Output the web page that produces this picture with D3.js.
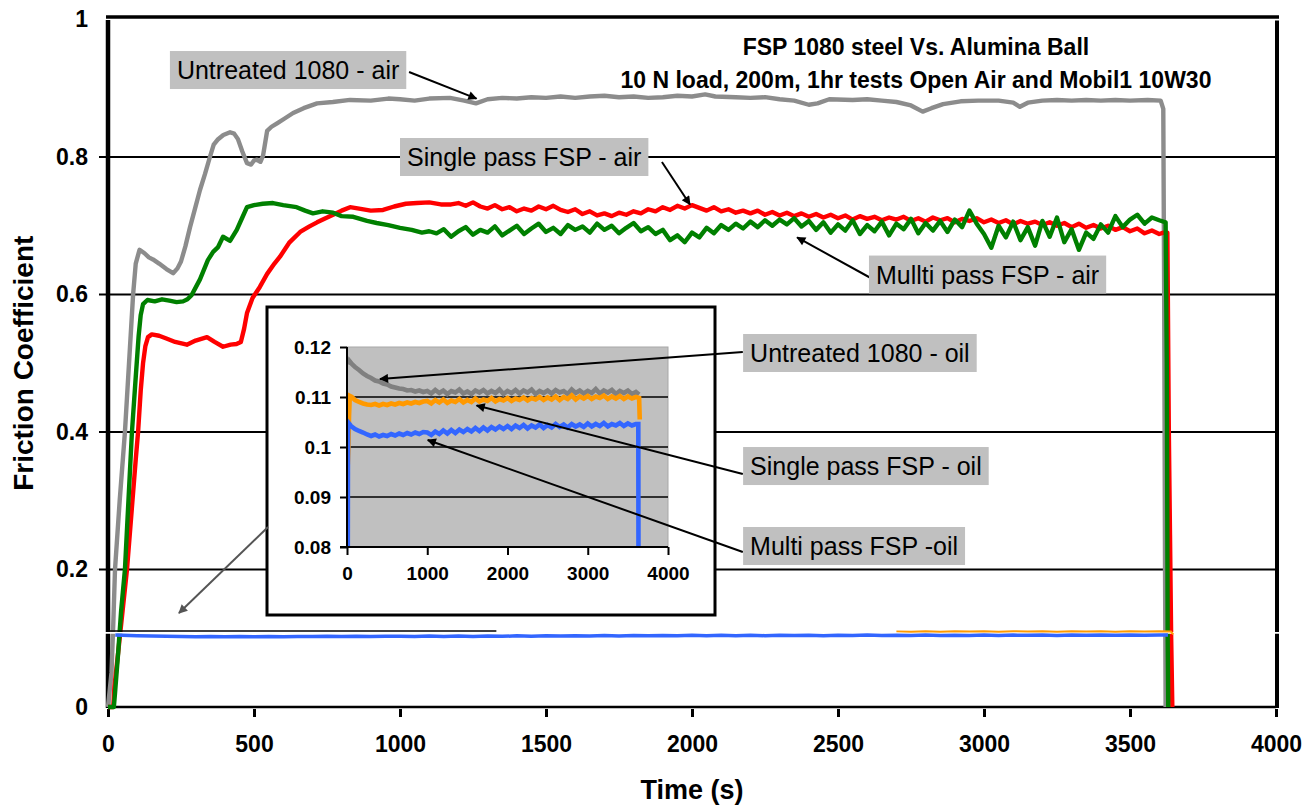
<!DOCTYPE html>
<html>
<head>
<meta charset="utf-8">
<script src="https://cdn.jsdelivr.net/npm/d3@7"></script>
<style>
  body { margin: 0; background: #fff; overflow: hidden; }
  text { font-family: 'Liberation Sans', Arial, sans-serif; }
</style>
</head>
<body>
<div id="chart"></div>
<script>
// tick values
const xTicks = [0, 500, 1000, 1500, 2000, 2500, 3000, 3500, 4000];
const yTicks = [0, 0.2, 0.4, 0.6, 0.8, 1];
const insetXTicks = [0, 1000, 2000, 3000, 4000];
const insetYTicks = [0.08, 0.09, 0.1, 0.11, 0.12];

// open air tests, [time (s), friction coefficient]
const untreatedAir = [
  [0, 0], [12, 0.05], [18, 0.12], [24, 0.2], [40, 0.3], [58, 0.4], [72, 0.5], [86, 0.6], [95, 0.645], [108, 0.665],
  [125, 0.66], [140, 0.654], [154, 0.651], [175, 0.645], [200, 0.637], [223, 0.631], [238, 0.638], [250, 0.648], [265, 0.67], [281, 0.698],
  [298, 0.725], [315, 0.752], [332, 0.775], [349, 0.80], [362, 0.818], [375, 0.825], [395, 0.832], [418, 0.836], [432, 0.834], [445, 0.826],
  [460, 0.808], [476, 0.791], [490, 0.789], [500, 0.795], [510, 0.796], [522, 0.793], [531, 0.802], [545, 0.838], [560, 0.844], [579, 0.849],
  [605, 0.856], [634, 0.864], [670, 0.871], [716, 0.878], [770, 0.88], [829, 0.883], [900, 0.882], [960, 0.885], [1000, 0.884], [1050, 0.882],
  [1100, 0.885], [1171, 0.886], [1220, 0.882], [1260, 0.878], [1300, 0.884], [1350, 0.886], [1400, 0.885], [1450, 0.887], [1500, 0.886], [1550, 0.888],
  [1600, 0.886], [1650, 0.888], [1700, 0.889], [1750, 0.887], [1800, 0.888], [1850, 0.886], [1900, 0.887], [1950, 0.889], [2000, 0.888], [2045, 0.891],
  [2080, 0.888], [2150, 0.887], [2200, 0.886], [2250, 0.887], [2300, 0.884], [2350, 0.882], [2400, 0.876], [2430, 0.878], [2470, 0.884], [2550, 0.883],
  [2600, 0.884], [2650, 0.882], [2700, 0.88], [2750, 0.875], [2790, 0.866], [2820, 0.871], [2860, 0.877], [2920, 0.881], [2980, 0.882], [3050, 0.882],
  [3100, 0.879], [3123, 0.873], [3150, 0.879], [3200, 0.882], [3250, 0.883], [3300, 0.882], [3350, 0.883], [3400, 0.882], [3450, 0.883], [3500, 0.882],
  [3560, 0.883], [3605, 0.882], [3614, 0.87], [3617, 0.6], [3620, 0.2], [3622, 0]
];

const singleAirHead = [
  [0, 0], [18, 0], [22, 0.03], [35, 0.08], [50, 0.14], [65, 0.2], [80, 0.28], [95, 0.36], [103, 0.4], [112, 0.46],
  [120, 0.5], [128, 0.525], [137, 0.538], [150, 0.542], [175, 0.54], [200, 0.536], [230, 0.531], [270, 0.527], [300, 0.533], [339, 0.538],
  [365, 0.531], [394, 0.524], [420, 0.527], [440, 0.528], [455, 0.531], [466, 0.55], [476, 0.573], [495, 0.595], [520, 0.611], [545, 0.63],
  [570, 0.645], [589, 0.655], [620, 0.675], [658, 0.691], [690, 0.699], [716, 0.705], [745, 0.711], [771, 0.716], [800, 0.722], [829, 0.727],
  [860, 0.725], [900, 0.722], [942, 0.723], [980, 0.728], [1020, 0.732], [1058, 0.733], [1100, 0.734], [1140, 0.731], [1175, 0.731]
];
// sampled every 25 s from 1200 s
const singleAirTail = [
  0.733, 0.729, 0.734, 0.728, 0.725, 0.730, 0.724, 0.727, 0.721, 0.725,
  0.722, 0.728, 0.724, 0.729, 0.723, 0.720, 0.724, 0.717, 0.721, 0.715,
  0.718, 0.714, 0.719, 0.716, 0.721, 0.718, 0.724, 0.721, 0.727, 0.723,
  0.729, 0.725, 0.730, 0.726, 0.722, 0.727, 0.721, 0.724, 0.719, 0.722,
  0.718, 0.722, 0.716, 0.720, 0.715, 0.719, 0.714, 0.718, 0.713, 0.717,
  0.712, 0.716, 0.711, 0.715, 0.709, 0.714, 0.710, 0.713, 0.708, 0.712,
  0.709, 0.713, 0.707, 0.711, 0.706, 0.712, 0.708, 0.711, 0.705, 0.710,
  0.707, 0.711, 0.705, 0.709, 0.704, 0.708, 0.702, 0.707, 0.703, 0.706,
  0.701, 0.705, 0.700, 0.704, 0.698, 0.703, 0.697, 0.701, 0.696, 0.700,
  0.694, 0.698, 0.692, 0.696, 0.689, 0.693, 0.688
];
const singleAirEnd = [[3615, 0.69], [3628, 0.69], [3633, 0.4], [3637, 0.25], [3641, 0.1], [3645, 0]];

const multiAirHead = [
  [0, 0], [20, 0], [24, 0.02], [35, 0.08], [45, 0.14], [58, 0.2], [70, 0.3], [82, 0.4], [95, 0.48], [105, 0.54],
  [112, 0.57], [120, 0.586], [135, 0.592], [160, 0.59], [185, 0.593], [210, 0.591], [235, 0.589], [257, 0.59], [272, 0.593], [286, 0.599],
  [300, 0.61], [315, 0.622], [342, 0.65], [360, 0.662], [377, 0.669], [394, 0.684], [418, 0.678], [441, 0.694], [460, 0.712], [476, 0.727],
  [500, 0.73], [530, 0.732], [565, 0.733], [600, 0.73], [646, 0.727], [675, 0.722], [702, 0.718], [735, 0.721], [771, 0.719], [800, 0.714],
  [840, 0.713], [887, 0.707], [920, 0.704], [960, 0.701], [1000, 0.697], [1040, 0.694], [1075, 0.69], [1100, 0.692]
];
// sampled every 25 s from 1125 s
const multiAirTail = [
  0.689, 0.695, 0.684, 0.692, 0.698, 0.687, 0.694, 0.690, 0.699, 0.686,
  0.693, 0.700, 0.688, 0.696, 0.703, 0.691, 0.697, 0.688, 0.701, 0.694,
  0.699, 0.690, 0.703, 0.694, 0.700, 0.689, 0.697, 0.704, 0.692, 0.698,
  0.688, 0.694, 0.679, 0.686, 0.676, 0.690, 0.683, 0.697, 0.689, 0.701,
  0.694, 0.703, 0.696, 0.706, 0.698, 0.708, 0.700, 0.709, 0.702, 0.711,
  0.699, 0.707, 0.694, 0.705, 0.690, 0.702, 0.693, 0.708, 0.688, 0.701,
  0.692, 0.706, 0.686, 0.703, 0.695, 0.710, 0.689, 0.704, 0.693, 0.707,
  0.691, 0.709, 0.698, 0.722, 0.703, 0.688, 0.668, 0.700, 0.683, 0.706,
  0.679, 0.698, 0.671, 0.707, 0.684, 0.712, 0.676, 0.695, 0.665, 0.690,
  0.681, 0.702, 0.690, 0.714, 0.698, 0.709, 0.716, 0.703, 0.712, 0.708
];
const multiAirEnd = [[3622, 0.705], [3626, 0.5], [3629, 0.1], [3631, 0]];

// Mobil1 10W30 tests
const untreatedOilHead = [
  [15, 0.1165], [30, 0.1172], [60, 0.1166], [100, 0.1160], [150, 0.1154], [200, 0.1147], [250, 0.1142], [300, 0.1138], [350, 0.1133], [400, 0.1131],
  [450, 0.1127], [500, 0.1125], [550, 0.1121], [600, 0.1119], [650, 0.1117], [700, 0.1116], [750, 0.1113], [800, 0.1114], [850, 0.1111], [900, 0.1113],
  [950, 0.1110]
];
// sampled every 50 s from 1000 s
const untreatedOilTail = [
  0.1112, 0.1107, 0.1114, 0.1108, 0.1113, 0.1106, 0.1112, 0.1109, 0.1115, 0.1107,
  0.1111, 0.1106, 0.1113, 0.1109, 0.1114, 0.1107, 0.1112, 0.1108, 0.1115, 0.1106,
  0.1112, 0.1108, 0.1114, 0.1107, 0.1113, 0.1109, 0.1115, 0.1106, 0.1112, 0.1108,
  0.1113, 0.1107, 0.1114, 0.1109, 0.1112, 0.1106, 0.1115, 0.1108, 0.1113, 0.1107,
  0.1112, 0.1108, 0.1116, 0.1107, 0.1113, 0.1109, 0.1114, 0.1106, 0.1112, 0.1108,
  0.1113, 0.1106, 0.1110
];
const untreatedOilEnd = [[3640, 0.1105]];

const singleOilHead = [
  [10, 0.0965], [18, 0.100], [25, 0.1060], [35, 0.1102], [60, 0.1100], [100, 0.1094], [150, 0.1090], [200, 0.1087], [250, 0.1085], [300, 0.1084],
  [350, 0.1086], [400, 0.1083], [450, 0.1086], [500, 0.1084], [550, 0.1087], [600, 0.1085], [650, 0.1088], [700, 0.1086], [750, 0.1089], [800, 0.1087],
  [850, 0.1090], [900, 0.1088], [950, 0.1091]
];
const singleOilTail = [
  0.1092, 0.1087, 0.1094, 0.1089, 0.1095, 0.1088, 0.1093, 0.1090, 0.1096, 0.1089,
  0.1094, 0.1090, 0.1097, 0.1091, 0.1095, 0.1092, 0.1098, 0.1091, 0.1096, 0.1093,
  0.1098, 0.1092, 0.1097, 0.1094, 0.1099, 0.1093, 0.1098, 0.1095, 0.1100, 0.1094,
  0.1099, 0.1095, 0.1101, 0.1094, 0.1100, 0.1096, 0.1103, 0.1095, 0.1101, 0.1097,
  0.1102, 0.1096, 0.1101, 0.1098, 0.1103, 0.1096, 0.1101, 0.1097, 0.1102, 0.1096,
  0.1101, 0.1097, 0.1100
];
const singleOilEnd = [[3640, 0.1098], [3648, 0.1055]];

const multiOilHead = [
  [10, 0.08], [12, 0.1035], [25, 0.1047], [50, 0.1042], [100, 0.1036], [150, 0.1032], [200, 0.1029], [250, 0.1025], [300, 0.1022], [350, 0.1025],
  [400, 0.1021], [450, 0.1024], [500, 0.1022], [550, 0.1026], [600, 0.1023], [650, 0.1027], [700, 0.1024], [750, 0.1028], [800, 0.1025], [850, 0.1029],
  [900, 0.1026], [950, 0.1030]
];
const multiOilTail = [
  0.1029, 0.1024, 0.1031, 0.1026, 0.1033, 0.1027, 0.1034, 0.1028, 0.1035, 0.1030,
  0.1036, 0.1031, 0.1038, 0.1032, 0.1039, 0.1033, 0.1040, 0.1035, 0.1041, 0.1036,
  0.1042, 0.1036, 0.1043, 0.1038, 0.1044, 0.1037, 0.1043, 0.1039, 0.1045, 0.1038,
  0.1044, 0.1039, 0.1046, 0.1040, 0.1045, 0.1039, 0.1046, 0.1041, 0.1045, 0.1040,
  0.1047, 0.1041, 0.1046, 0.1042, 0.1048, 0.1041, 0.1046, 0.1043, 0.1048, 0.1042,
  0.1047, 0.1043, 0.1046
];
const multiOilEnd = [[3630, 0.1046], [3632, 0.08]];

// leftovers of the pasted inset in the original figure
const cutLine = [[0, 0.1105], [1330, 0.1105]];
const whiteBreak = [[-30, 0.1078], [4030, 0.1078]];

const titleLines = ['FSP 1080 steel Vs. Alumina Ball', '10 N load, 200m, 1hr tests Open Air and Mobil1 10W30'];
const labelTexts = ['Untreated 1080 - air', 'Single pass FSP - air', 'Mullti pass FSP - air',
  'Untreated 1080 - oil', 'Single pass FSP - oil', 'Multi pass FSP -oil'];

// join a head of [t, v] pairs with a regularly sampled tail
function joinTail(head, start, step, tail, end) {
  return head.concat(tail.map((v, i) => [start + i * step, v]), end);
}

const singleAir = joinTail(singleAirHead, 1200, 25, singleAirTail, singleAirEnd);
const multiAir = joinTail(multiAirHead, 1125, 25, multiAirTail, multiAirEnd);
const untreatedOil = joinTail(untreatedOilHead, 1000, 50, untreatedOilTail, untreatedOilEnd);
const singleOil = joinTail(singleOilHead, 1000, 50, singleOilTail, singleOilEnd);
const multiOil = joinTail(multiOilHead, 1000, 50, multiOilTail, multiOilEnd);

const svg = d3.select('#chart').append('svg')
  .attr('width', 1315)
  .attr('height', 808);

// main scales
const x = d3.scaleLinear().domain([0, 4000]).range([108, 1276]);
const y = d3.scaleLinear().domain([0, 1]).range([707, 19.5]);
// inset scales
const ix = d3.scaleLinear().domain([0, 4000]).range([347, 668]);
const iy = d3.scaleLinear().domain([0.08, 0.12]).range([547, 347]);

const line = d3.line().x(d => x(d[0])).y(d => y(d[1]));
const iline = d3.line().x(d => ix(d[0])).y(d => iy(d[1]));

const defs = svg.append('defs');
function addMarker(id, color) {
  defs.append('marker')
    .attr('id', id)
    .attr('viewBox', '0 0 10 10')
    .attr('refX', 9).attr('refY', 5)
    .attr('markerWidth', 12).attr('markerHeight', 9)
    .attr('markerUnits', 'userSpaceOnUse')
    .attr('orient', 'auto')
    .append('path')
    .attr('d', 'M0,0L10,5L0,10z')
    .attr('fill', color);
}
addMarker('arrowBlack', '#000');
addMarker('arrowGray', '#555');

// gridlines (they also make the outer ticks)
svg.append('g')
  .selectAll('line')
  .data(yTicks.filter(d => d > 0 && d < 1))
  .join('line')
  .attr('x1', 99).attr('x2', x(4000))
  .attr('y1', d => y(d)).attr('y2', d => y(d))
  .attr('stroke', '#000')
  .attr('stroke-width', 2);

// frame
svg.append('line').attr('x1', 106).attr('x2', x(4000) + 3).attr('y1', y(1) - 2.5).attr('y2', y(1) - 2.5)
  .attr('stroke', '#000').attr('stroke-width', 3.5);
svg.append('line').attr('x1', x(0)).attr('x2', x(0)).attr('y1', y(1) + 0.5).attr('y2', y(0) + 1)
  .attr('stroke', '#000').attr('stroke-width', 4.5);
svg.append('line').attr('x1', x(4000) + 1).attr('x2', x(4000) + 1).attr('y1', y(1) + 1).attr('y2', y(0) + 1)
  .attr('stroke', '#000').attr('stroke-width', 4);
svg.append('line').attr('x1', x(0)).attr('x2', x(4000)).attr('y1', y(0)).attr('y2', y(0))
  .attr('stroke', '#000').attr('stroke-width', 2.5);

// x axis, ticks sit just under the axis line
const xAxis = svg.append('g')
  .attr('transform', `translate(0,${y(0) + 2})`)
  .call(d3.axisBottom(x).tickValues(xTicks).tickSize(8).tickPadding(19).tickFormat(d3.format('d')));
xAxis.select('.domain').remove();
xAxis.selectAll('.tick line').attr('stroke', '#000').attr('stroke-width', 3);
xAxis.selectAll('text')
  .attr('font-family', "'Liberation Sans', Arial, sans-serif")
  .attr('font-size', 23).attr('font-weight', 'bold').attr('fill', '#000');

const yAxis = svg.append('g')
  .attr('transform', `translate(${x(0)},0)`)
  .call(d3.axisLeft(y).tickValues(yTicks).tickSize(0).tickPadding(20).tickFormat(d => +d.toFixed(1)));
yAxis.select('.domain').remove();
yAxis.selectAll('text')
  .attr('font-family', "'Liberation Sans', Arial, sans-serif")
  .attr('font-size', 23).attr('font-weight', 'bold').attr('fill', '#000');

// air curves
const airSeries = [
  { data: untreatedAir, color: '#8c8c8c' },
  { data: singleAir, color: '#ff0000' },
  { data: multiAir, color: '#008000' }
];
svg.append('g')
  .selectAll('path')
  .data(airSeries)
  .join('path')
  .attr('d', d => line(d.data))
  .attr('fill', 'none')
  .attr('stroke', d => d.color)
  .attr('stroke-width', 4.4)
  .attr('stroke-linejoin', 'round');

// white seam across the whole figure
svg.append('path').attr('d', line(whiteBreak))
  .attr('stroke', '#fff').attr('stroke-width', 1.6);

// oil curves at full scale
svg.append('path').attr('d', line(cutLine))
  .attr('stroke', '#000').attr('stroke-width', 1.6);
svg.append('path').attr('d', line(singleOil.filter(d => d[0] >= 2700)))
  .attr('fill', 'none').attr('stroke', '#ff9900').attr('stroke-width', 2);
svg.append('path').attr('d', line(multiOil.filter(d => d[0] >= 20 && d[1] > 0.09)))
  .attr('fill', 'none').attr('stroke', '#3366ff').attr('stroke-width', 3.5);

// inset
const inset = svg.append('g');
inset.append('rect')
  .attr('x', ix(0) - 80).attr('y', iy(0.12) - 40)
  .attr('width', ix(4000) - ix(0) + 127).attr('height', iy(0.08) - iy(0.12) + 108)
  .attr('fill', '#fff').attr('stroke', '#000').attr('stroke-width', 3);
inset.append('rect')
  .attr('x', ix(0)).attr('y', iy(0.12))
  .attr('width', ix(4000) - ix(0)).attr('height', iy(0.08) - iy(0.12))
  .attr('fill', '#c0c0c0').attr('stroke', '#a8a8a8').attr('stroke-width', 1);
defs.append('clipPath').attr('id', 'insetClip')
  .append('rect')
  .attr('x', ix(0)).attr('y', iy(0.12))
  .attr('width', ix(4000) - ix(0)).attr('height', iy(0.08) - iy(0.12));

inset.append('g')
  .selectAll('line')
  .data(insetYTicks.filter(d => d > 0.08 && d < 0.12))
  .join('line')
  .attr('x1', ix(0)).attr('x2', ix(4000))
  .attr('y1', d => iy(d)).attr('y2', d => iy(d))
  .attr('stroke', '#000').attr('stroke-width', 1.6);

const oilSeries = [
  { data: untreatedOil, color: '#808080' },
  { data: singleOil, color: '#ff9900' },
  { data: multiOil, color: '#3366ff' }
];
inset.append('g')
  .attr('clip-path', 'url(#insetClip)')
  .selectAll('path')
  .data(oilSeries)
  .join('path')
  .attr('d', d => iline(d.data))
  .attr('fill', 'none')
  .attr('stroke', d => d.color)
  .attr('stroke-width', 4.6);

inset.append('line').attr('x1', ix(0)).attr('x2', ix(0)).attr('y1', iy(0.12)).attr('y2', iy(0.08))
  .attr('stroke', '#000').attr('stroke-width', 2);
inset.append('line').attr('x1', ix(0) - 7).attr('x2', ix(4000)).attr('y1', iy(0.08)).attr('y2', iy(0.08))
  .attr('stroke', '#000').attr('stroke-width', 2);

const ixAxis = inset.append('g')
  .attr('transform', `translate(0,${iy(0.08)})`)
  .call(d3.axisBottom(ix).tickValues(insetXTicks).tickSize(8).tickPadding(12).tickFormat(d3.format('d')));
const iyAxis = inset.append('g')
  .attr('transform', `translate(${ix(0)},0)`)
  .call(d3.axisLeft(iy).tickValues(insetYTicks).tickSize(7).tickPadding(9).tickFormat(d => +d.toFixed(2)));
[ixAxis, iyAxis].forEach(a => {
  a.select('.domain').remove();
  a.selectAll('.tick line').attr('stroke', '#000').attr('stroke-width', 2);
  a.selectAll('text')
    .attr('font-family', "'Liberation Sans', Arial, sans-serif")
    .attr('font-size', 19).attr('font-weight', 'bold').attr('fill', '#000');
});

// arrow from the inset down to the oil curves
svg.append('line')
  .attr('x1', x(548)).attr('y1', y(0.2618))
  .attr('x2', x(243)).attr('y2', y(0.1367))
  .attr('stroke', '#555').attr('stroke-width', 2)
  .attr('marker-end', 'url(#arrowGray)');

// call-out labels: text start and box centre in main units, arrow start in main units,
// arrow tip in main units (air) or inset units (oil)
const callouts = [
  { t: 236, v: 0.9265, from: [1031, 0.9236], tip: [1262, 0.885], inset: false },
  { t: 1024, v: 0.80, from: [1897, 0.7927], tip: [1993, 0.731], inset: false },
  { t: 2630, v: 0.629, from: [2612, 0.624], tip: [2360, 0.683], inset: false },
  { t: 2199, v: 0.5149, from: [2174, 0.5164], tip: [411, 0.1136], inset: true },
  { t: 2199, v: 0.3505, from: [2174, 0.339], tip: [1615, 0.1083], inset: true },
  { t: 2199, v: 0.2342, from: [2174, 0.2255], tip: [1006, 0.1014], inset: true }
];

callouts.forEach((c, i) => {
  const tipX = c.inset ? ix(c.tip[0]) : x(c.tip[0]);
  const tipY = c.inset ? iy(c.tip[1]) : y(c.tip[1]);
  svg.append('line')
    .attr('x1', x(c.from[0])).attr('y1', y(c.from[1]))
    .attr('x2', tipX).attr('y2', tipY)
    .attr('stroke', '#000').attr('stroke-width', 2)
    .attr('marker-end', 'url(#arrowBlack)');

  const g = svg.append('g');
  const box = g.append('rect').attr('fill', '#c0c0c0');
  const label = g.append('text')
    .attr('x', x(c.t)).attr('y', y(c.v))
    .attr('dy', '0.36em')
    .attr('font-size', 25)
    .attr('fill', '#000')
    .text(labelTexts[i]);
  const w = label.node().getComputedTextLength();
  box.attr('x', x(c.t) - 7).attr('y', y(c.v) - 19)
    .attr('width', w + 14).attr('height', 38);
});

// title
svg.append('g')
  .selectAll('text')
  .data(titleLines)
  .join('text')
  .attr('x', x(2767))
  .attr('y', (d, i) => y(0.96 - i * 0.048))
  .attr('dy', '0.36em')
  .attr('text-anchor', 'middle')
  .attr('font-size', 23)
  .attr('font-weight', 'bold')
  .text(d => d);

// axis titles
svg.append('text')
  .attr('x', (x(0) + x(4000)) / 2).attr('y', 799)
  .attr('text-anchor', 'middle')
  .attr('font-size', 27).attr('font-weight', 'bold')
  .text('Time (s)');
svg.append('text')
  .attr('transform', `translate(33,${(y(0) + y(1)) / 2}) rotate(-90)`)
  .attr('text-anchor', 'middle')
  .attr('font-size', 28).attr('font-weight', 'bold')
  .text('Friction Coefficient');
</script>
</body>
</html>
